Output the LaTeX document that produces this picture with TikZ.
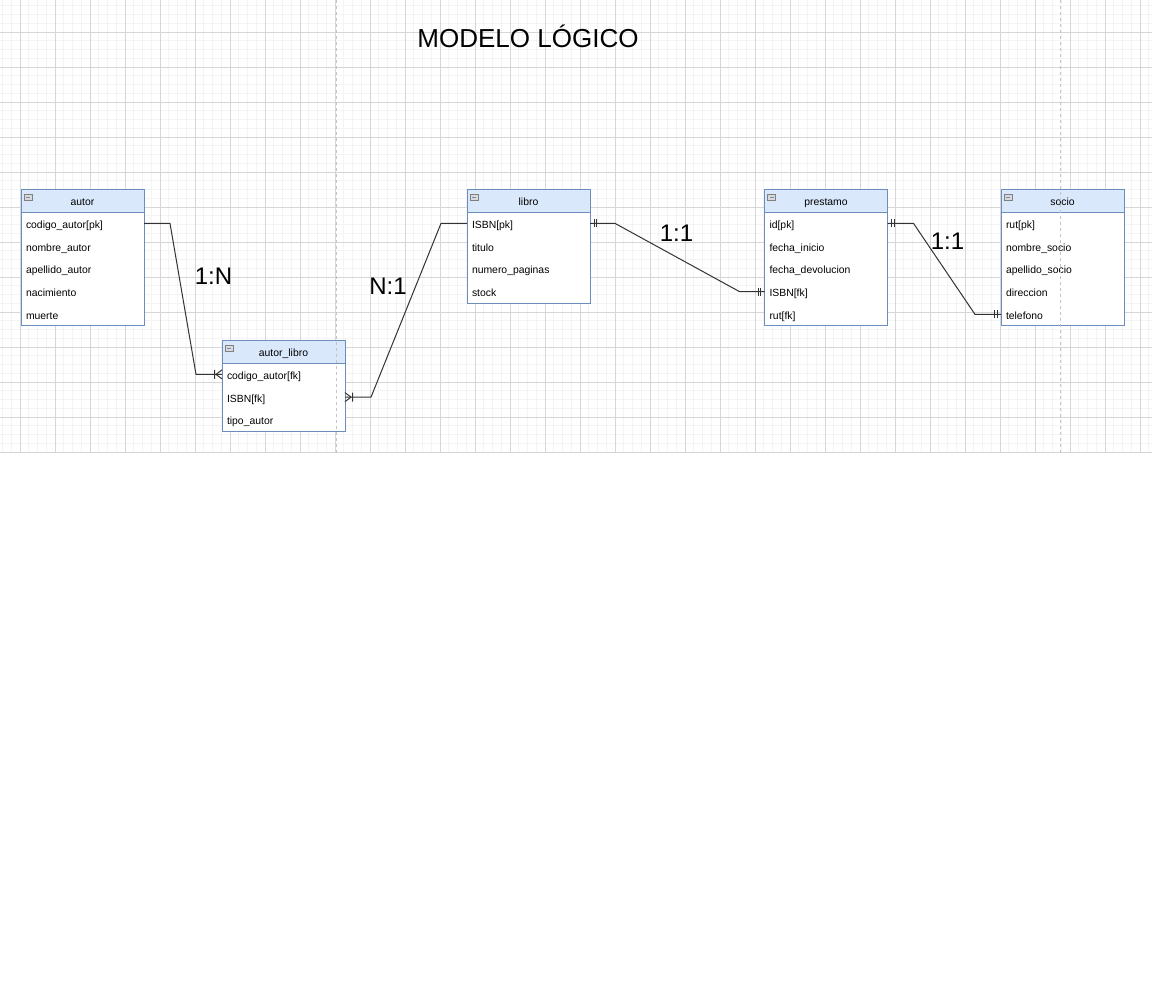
\documentclass[tikz,border=0pt]{standalone}
\usepackage{fontspec}
\setmainfont{Liberation Sans}
\usetikzlibrary{positioning}
\definecolor{erblue}{HTML}{6C8EBF}
\definecolor{erfill}{HTML}{DAE8FC}
\definecolor{gridmajor}{HTML}{D6D6D6}
\definecolor{gridminor}{HTML}{F4F4F4}
\definecolor{pageline}{HTML}{C4C4C4}
\definecolor{linkcol}{HTML}{333333}
\tikzset{tablehead/.style={draw=erblue, fill=erfill, line width=1pt, outer sep=0pt,
      minimum width=123pt, minimum height=23pt, inner sep=0pt,
      text height=9pt, text depth=0pt, font=\fontsize{10.4}{12}\selectfont,
      path picture={
        \draw[draw=gray, fill=gray!30, line width=0.6pt]
          ([xshift=3pt,yshift=-5pt]path picture bounding box.north west) rectangle ++(8pt,-6pt);
        \draw[line width=0.8pt]
          ([xshift=5pt,yshift=-8pt]path picture bounding box.north west) -- ++(4pt,0pt);}},
    field/.style={fill=white, draw=white, line width=0.6pt, outer sep=0pt,
      minimum width=123pt, text width=113pt,
      inner xsep=5pt, inner ysep=0pt, minimum height=22.75pt,
      text height=10pt, text depth=0pt, align=left,
      font=\fontsize{10.4}{12}\selectfont},
    tableframe/.style={draw=erblue, line width=1pt},
    conn/.style={draw=linkcol, line width=1pt},
    rel/.style={anchor=base, inner sep=0pt, font=\fontsize{24}{28}\selectfont},
    crowfoot/.pic={\draw[conn] (-6pt,0pt) -- (0pt,4.5pt) (-6pt,0pt) -- (0pt,-4.5pt)
      (-7.5pt,4.5pt) -- (-7.5pt,-4.5pt);},
    mandone/.pic={\draw[conn] (-4pt,4pt) -- (-4pt,-4pt) (-6.5pt,4pt) -- (-6.5pt,-4pt);}}

\begin{document}
\begin{tikzpicture}[x=1pt,y=-1pt]
\useasboundingbox (0,0) rectangle (1152,996);
\fill[white] (0,0) rectangle (1152,996);

% grid
\foreach \gx in {2.5,11.25,...,1152} \draw[gridminor, line width=1pt] (\gx,0) -- (\gx,453);
\foreach \gy in {5.75,14.5,...,453} \draw[gridminor, line width=1pt] (0,\gy) -- (1152,\gy);
\foreach \gx in {20,55,...,1152} \draw[gridmajor, line width=1pt] (\gx,0) -- (\gx,453);
\foreach \gy in {32,67,...,453} \draw[gridmajor, line width=1pt] (0,\gy) -- (1152,\gy);

\node (title) [anchor=base, font=\fontsize{26}{30}\selectfont] at (528,47) {MODELO LÓGICO};

% autor
\node (autor-0) [tablehead] at (82.5,200.5) {autor};
\foreach \f [count=\i] in {codigo\_autor[pk], nombre\_autor, apellido\_autor, nacimiento, muerte}{
  \pgfmathtruncatemacro{\p}{\i-1}
  \node (autor-\i) [field, below=0pt of autor-\p] {\f};
}
\draw[tableframe] (autor-0.north west) rectangle (autor-5.south east)
  (autor-0.south west) -- (autor-0.south east);

% autor_libro
\node (autorlibro-0) [tablehead] at (283.5,351.5) {autor\_libro};
\foreach \f [count=\i] in {codigo\_autor[fk], ISBN[fk], tipo\_autor}{
  \pgfmathtruncatemacro{\p}{\i-1}
  \node (autorlibro-\i) [field, below=0pt of autorlibro-\p] {\f};
}
\draw[tableframe] (autorlibro-0.north west) rectangle (autorlibro-3.south east)
  (autorlibro-0.south west) -- (autorlibro-0.south east);

% libro
\node (libro-0) [tablehead] at (528.5,200.5) {libro};
\foreach \f [count=\i] in {ISBN[pk], titulo, numero\_paginas, stock}{
  \pgfmathtruncatemacro{\p}{\i-1}
  \node (libro-\i) [field, below=0pt of libro-\p] {\f};
}
\draw[tableframe] (libro-0.north west) rectangle (libro-4.south east)
  (libro-0.south west) -- (libro-0.south east);

% prestamo
\node (prestamo-0) [tablehead] at (826,200.5) {prestamo};
\foreach \f [count=\i] in {id[pk], fecha\_inicio, fecha\_devolucion, ISBN[fk], rut[fk]}{
  \pgfmathtruncatemacro{\p}{\i-1}
  \node (prestamo-\i) [field, below=0pt of prestamo-\p] {\f};
}
\draw[tableframe] (prestamo-0.north west) rectangle (prestamo-5.south east)
  (prestamo-0.south west) -- (prestamo-0.south east);

% socio
\node (socio-0) [tablehead] at (1062.5,200.5) {socio};
\foreach \f [count=\i] in {rut[pk], nombre\_socio, apellido\_socio, direccion, telefono}{
  \pgfmathtruncatemacro{\p}{\i-1}
  \node (socio-\i) [field, below=0pt of socio-\p] {\f};
}
\draw[tableframe] (socio-0.north west) rectangle (socio-5.south east)
  (socio-0.south west) -- (socio-0.south east);

% relations
\draw[conn] (autor-1.east) -- ++(26,0) -- ([xshift=-26pt]autorlibro-1.west) -- (autorlibro-1.west);
\draw[conn] (autorlibro-2.east) -- ++(26,0) -- ([xshift=-26pt]libro-1.west) -- (libro-1.west);
\draw[conn] (libro-1.east) -- ++(25,0) -- ([xshift=-25pt]prestamo-4.west) -- (prestamo-4.west);
\draw[conn] (prestamo-1.east) -- ++(26,0) -- ([xshift=-26pt]socio-5.west) -- (socio-5.west);

\pic at (autorlibro-1.west) {crowfoot};
\pic[rotate=180] at (autorlibro-2.east) {crowfoot};
\pic[rotate=180] at (libro-1.east) {mandone};
\pic at (prestamo-4.west) {mandone};
\pic[rotate=180] at (prestamo-1.east) {mandone};
\pic at (socio-5.west) {mandone};

\node (rel1) [rel] at (213.5,284) {1:N};
\node (rel2) [rel] at (388,294) {N:1};
\node (rel3) [rel] at (676.5,241.5) {1:1};
\node (rel4) [rel] at (947.5,249) {1:1};

% page breaks
\draw[pageline, line width=1pt, dash pattern=on 3pt off 3pt] (336,0) -- (336,453);
\draw[pageline, line width=1pt, dash pattern=on 3pt off 3pt] (1060,0) -- (1060,453);
\end{tikzpicture}
\end{document}
